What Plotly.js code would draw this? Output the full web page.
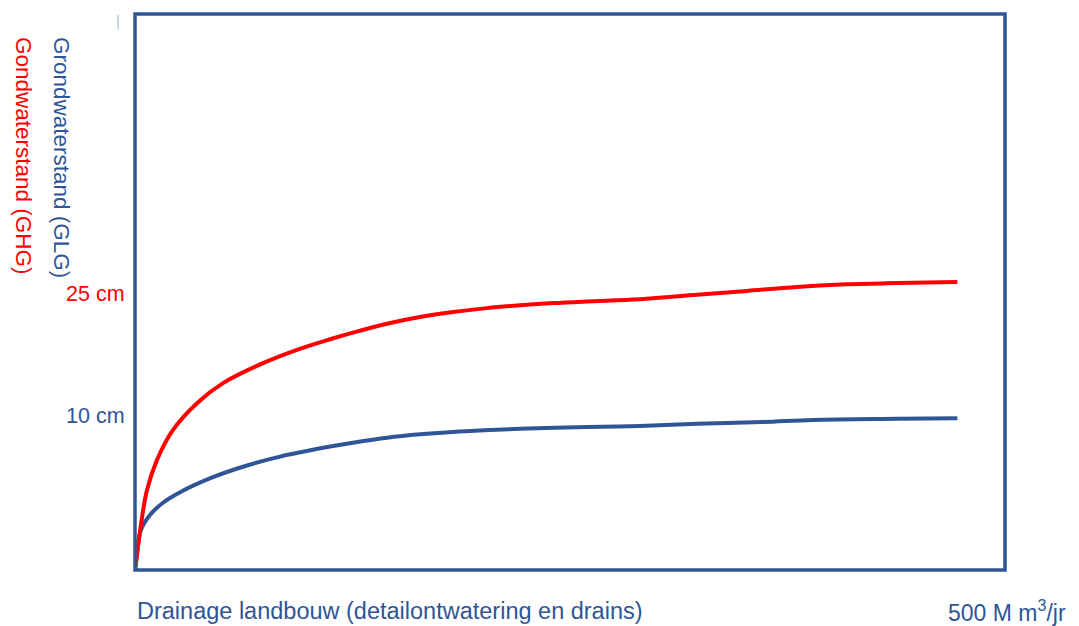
<!DOCTYPE html>
<html>
<head>
<meta charset="utf-8">
<script src="https://cdn.plot.ly/plotly-3.0.1.min.js"></script>
<style>html,body{margin:0;padding:0;background:#fff;}#chart{width:1079px;height:626px;}</style>
</head>
<body>
<div id="chart"></div>
<script>
// Drainage (M m3/jr) along x; schematic groundwater level (relative units) along y
const ghgX = [0, 3.6, 7.3, 13.4, 23.1, 37.7, 53.5, 77.8, 98.5, 118.6, 132.5, 153.2, 173.3, 193.3, 214.0, 234.1, 254.1, 274.8, 307.0, 341.7, 372.1, 402.5, 432.9, 463.3, 500];
const ghgY = [0, 8.1, 14.4, 19.8, 25.2, 30.0, 33.6, 37.2, 39.6, 41.5, 42.7, 44.3, 45.5, 46.4, 47.1, 47.6, 48.0, 48.3, 48.7, 49.5, 50.2, 50.9, 51.4, 51.6, 51.8];
const glgX = [0, 1.2, 3.6, 9.1, 17.0, 27.4, 47.4, 68.1, 88.2, 118.6, 132.5, 153.2, 173.3, 203.7, 234.1, 274.8, 307.0, 341.7, 381.8, 412.2, 463.3, 500];
const glgY = [0, 2.7, 7.2, 9.9, 12.1, 14.0, 16.7, 18.8, 20.4, 22.2, 22.9, 23.8, 24.4, 25.0, 25.4, 25.7, 25.9, 26.3, 26.6, 27.0, 27.2, 27.3];
const tickLabels = ['10 cm', '25 cm'];
const tickPos = [27.7, 49.6];
const tickColors = ['#2F5597', '#FF0000'];

const BLUE = '#2F5597';
const RED = '#FF0000';
const FONT = 'Liberation Sans, Arial, sans-serif';

const traces = [
  {x: glgX, y: glgY, type: 'scatter', mode: 'lines', line: {color: BLUE, width: 4, shape: 'spline', smoothing: 1}, hoverinfo: 'skip', name: 'GLG'},
  {x: ghgX, y: ghgY, type: 'scatter', mode: 'lines', line: {color: RED, width: 4, shape: 'spline', smoothing: 1}, hoverinfo: 'skip', name: 'GHG'}
];

const annotations = tickLabels.map((t, i) => ({
  text: t, xref: 'paper', yref: 'y', x: -0.0092, y: tickPos[i],
  xanchor: 'right', yanchor: 'middle', showarrow: false,
  font: {family: FONT, size: 21.5, color: tickColors[i]}
}));
annotations.push(
  {text: 'Grondwaterstand (GLG)', textangle: 90, xref: 'paper', yref: 'paper',
   x: (61 - 135) / 870, y: (570 - 157) / 556, xanchor: 'center', yanchor: 'middle', showarrow: false,
   font: {family: FONT, size: 22.5, color: BLUE}},
  {text: 'Gondwaterstand (GHG)', textangle: 90, xref: 'paper', yref: 'paper',
   x: (23 - 135) / 870, y: (570 - 156) / 556, xanchor: 'center', yanchor: 'middle', showarrow: false,
   font: {family: FONT, size: 22.5, color: RED}},
  {text: 'Drainage landbouw (detailontwatering en drains)', xref: 'paper', yref: 'paper',
   x: 0, y: (570 - 611) / 556, xanchor: 'left', yanchor: 'middle', showarrow: false,
   font: {family: FONT, size: 23.5, color: BLUE}},
  {text: '500 M m<sup>3</sup>/jr', xref: 'paper', yref: 'paper',
   x: (1068 - 135) / 870, y: (570 - 611) / 556, xanchor: 'right', yanchor: 'middle', showarrow: false,
   font: {family: FONT, size: 23, color: BLUE}}
);

const layout = {
  width: 1079, height: 626,
  margin: {l: 135, r: 74, t: 14, b: 56},
  paper_bgcolor: '#ffffff', plot_bgcolor: '#ffffff',
  showlegend: false,
  xaxis: {range: [0, 529], showgrid: false, zeroline: false, showticklabels: false, showline: false, ticks: '', fixedrange: true},
  yaxis: {range: [0, 100], showgrid: false, zeroline: false, showticklabels: false, showline: false, ticks: '', fixedrange: true},
  shapes: [
    {type: 'rect', xref: 'paper', yref: 'paper', x0: 0, x1: 1, y0: 0, y1: 1, line: {color: BLUE, width: 3.5}, layer: 'above'},
    {type: 'line', xref: 'paper', yref: 'paper', x0: (118 - 135) / 870, x1: (118 - 135) / 870, y0: (570 - 15) / 556, y1: (570 - 29) / 556, line: {color: '#8FAADC', width: 1}}
  ],
  annotations: annotations
};

Plotly.newPlot('chart', traces, layout, {displayModeBar: false, staticPlot: true});
</script>
</body>
</html>
